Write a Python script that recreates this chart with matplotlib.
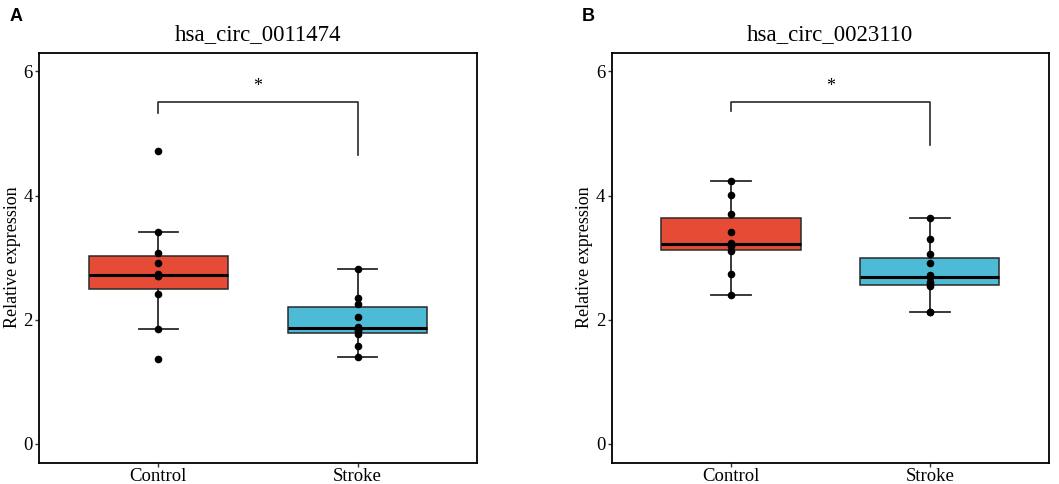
import matplotlib
matplotlib.use('Agg')
import matplotlib.pyplot as plt
import numpy as np

plt.rcParams['font.family'] = ['Liberation Serif', 'DejaVu Serif']

# data
groups = ['Control', 'Stroke']
titles = ['hsa_circ_0011474', 'hsa_circ_0023110']
panel_tags = ['A', 'B']

a_control = [1.36, 1.85, 2.42, 2.70, 2.71, 2.73, 2.91, 3.07, 3.41, 4.72]
a_stroke = [1.40, 1.57, 1.77, 1.82, 1.84, 1.88, 2.05, 2.26, 2.35, 2.82]
b_control = [2.40, 2.74, 3.10, 3.18, 3.21, 3.24, 3.42, 3.70, 4.01, 4.24]
b_stroke = [2.12, 2.13, 2.55, 2.57, 2.61, 2.68, 2.72, 2.92, 3.06, 3.30, 3.63]

# bracket: top, left end, right end
brackets = [(5.50, 5.33, 4.66), (5.50, 5.36, 4.81)]
colors = ['#E64B35', '#4DBBD5']

fig = plt.figure(figsize=(10.59, 4.84), dpi=100)
ax_pos = [[0.0368, 0.0444, 0.4136, 0.8467],
          [0.5776, 0.0444, 0.4130, 0.8467]]

panels = [(a_control, a_stroke), (b_control, b_stroke)]
for i, (ctrl, strk) in enumerate(panels):
    ax = fig.add_axes(ax_pos[i])
    data = [ctrl, strk]
    bp = ax.boxplot(data, positions=[1, 2], widths=0.7, patch_artist=True,
                    showfliers=False, whis=1.5,
                    medianprops=dict(color='black', linewidth=2.2),
                    boxprops=dict(edgecolor='#2a2a2a', linewidth=1.1),
                    whiskerprops=dict(color='#2a2a2a', linewidth=1.3),
                    capprops=dict(color='#2a2a2a', linewidth=1.3),
                    capwidths=0.2)
    for patch, c in zip(bp['boxes'], colors):
        patch.set_facecolor(c)
    for k, vals in enumerate(data):
        ax.scatter(np.full(len(vals), k + 1), vals, s=20, color='black', zorder=5)

    top, l_end, r_end = brackets[i]
    ax.plot([1, 1, 2, 2], [l_end, top, top, r_end], color='#2a2a2a', linewidth=1.2)
    ax.text(1.5, top + 0.12, '*', ha='center', va='bottom', fontsize=13)

    ax.set_xlim(0.4, 2.6)
    ax.set_ylim(-0.3, 6.3)
    ax.set_yticks([0, 2, 4, 6])
    ax.set_xticks([1, 2])
    ax.set_xticklabels(groups)
    ax.tick_params(labelsize=13.5, length=3, width=1, color='#333333', pad=1.5)
    ax.tick_params(axis='x', pad=1)
    ax.set_ylabel('Relative expression', fontsize=13, labelpad=2)
    ax.set_title(titles[i], fontsize=16.5, pad=9)
    for sp in ax.spines.values():
        sp.set_linewidth(1.3)
        sp.set_color('black')
    fig.text(ax_pos[i][0] - 0.028, 0.965, panel_tags[i], fontsize=13,
             fontweight='bold', family='Liberation Sans', ha='left', va='center')

fig.savefig('out.png', dpi=100)
